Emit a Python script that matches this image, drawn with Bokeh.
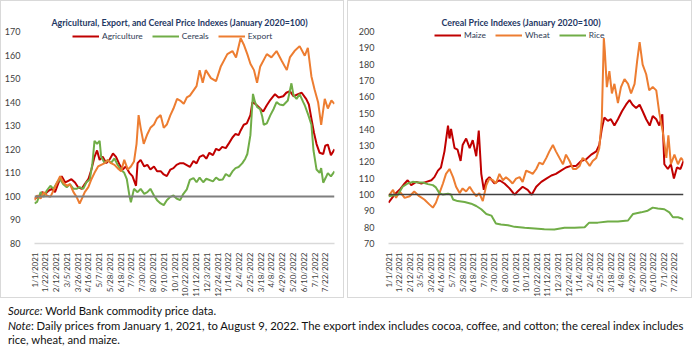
import math
import pandas as pd
from bokeh.plotting import figure
from bokeh.models import Range1d, FixedTicker, Span, Div
from bokeh.layouts import column, row
from bokeh.embed import file_html
from bokeh.resources import INLINE

START = "2021-01-01"
END = "2022-08-09"

tick_labels = ["1/1/2021", "1/22/2021", "2/12/2021", "3/5/2021", "3/26/2021", "4/16/2021",
               "5/7/2021", "5/28/2021", "6/18/2021", "7/9/2021", "7/30/2021", "8/20/2021",
               "9/10/2021", "10/1/2021", "10/22/2021", "11/12/2021", "12/3/2021", "12/24/2021",
               "1/14/2022", "2/4/2022", "2/25/2022", "3/18/2022", "4/8/2022", "4/29/2022",
               "5/20/2022", "6/10/2022", "7/1/2022", "7/22/2022"]

left_y_ticks = [80, 90, 100, 110, 120, 130, 140, 150, 160, 170]
right_y_ticks = [70, 80, 90, 100, 110, 120, 130, 140, 150, 160, 170, 180, 190, 200]

# ---- left panel (days since 1/1/2021, index value) ----
agri_day = [0, 8, 15, 21, 28, 34, 40, 47, 53, 60, 66, 72, 79, 85, 92, 98, 105, 111, 117, 122,
            127, 133, 140, 146, 153, 159, 166, 172, 178, 185, 191, 198, 201, 207, 214, 220, 226, 233, 239, 246,
            252, 258, 265, 271, 277, 284, 290, 303, 310, 316, 322, 329, 335, 341, 348, 354, 360, 366, 373, 379,
            386, 392, 398, 402, 408, 414, 421, 425, 432, 440, 446, 453, 460, 469, 476, 485, 491, 498, 505, 514,
            521, 530, 535, 540, 545, 550, 556, 563, 567, 572, 578, 585]
agri_val = [99.1, 99.8, 101.8, 101.1, 102.5, 103.2, 101.8, 105.9, 108.6, 105.9,
            106.6, 107.3, 105.9, 103.9, 103.2, 105.2, 107.3, 111.4, 116.8, 119.5,
            115.5, 116.8, 114.1, 115.5, 118.2, 116.8, 113.4, 111.4, 112.7, 110.0,
            108.6, 104.5, 114.1, 115.5, 112.7, 113.4, 111.4, 112.7, 110.7, 110.7,
            109.3, 108.6, 111.4, 112.0, 113.4, 114.1, 114.1, 112.5, 115.0, 114.0,
            116.8, 117.5, 116.0, 118.5, 117.5, 120.2, 119.5, 121.0, 120.5, 122.5,
            125.0, 126.5, 126.0, 128.0, 130.4, 131.0, 134.5, 140.0, 139.0, 137.3,
            136.0, 138.7, 141.0, 143.4, 142.0, 142.5, 144.0, 144.7, 142.5, 143.4,
            144.0, 141.3, 139.0, 133.0, 127.0, 122.2, 118.5, 118.0, 121.5, 122.0,
            117.5, 120.0]

cer_day = [0, 5, 12, 18, 24, 31, 37, 44, 50, 56, 63, 69, 76, 82, 88, 95, 101, 108, 113, 117,
           122, 127, 130, 137, 143, 149, 156, 162, 168, 175, 180, 185, 188, 194, 201, 207, 214, 220, 226, 233,
           239, 246, 252, 258, 265, 271, 277, 284, 290, 297, 303, 310, 316, 322, 329, 335, 348, 354, 360, 367,
           373, 380, 386, 392, 398, 405, 411, 415, 421, 426, 430, 434, 440, 444, 447, 453, 460, 466, 472, 478,
           485, 494, 501, 505, 511, 517, 524, 527, 534, 540, 544, 550, 556, 559, 563, 568, 572, 578, 585]
cer_val = [97.0, 97.7, 101.8, 99.8, 102.5, 104.5, 103.2, 105.9, 107.3, 105.2,
           103.9, 105.2, 103.2, 103.2, 103.9, 103.2, 105.9, 107.3, 114.1, 123.6,
           122.3, 123.6, 116.8, 114.1, 115.5, 114.1, 116.1, 113.4, 111.4, 110.0,
           107.3, 100.4, 97.5, 103.2, 101.8, 103.2, 101.1, 101.8, 103.2, 100.4,
           98.4, 97.0, 96.3, 98.4, 99.8, 100.4, 99.1, 98.4, 101.0, 103.0,
           107.0, 107.8, 106.0, 108.0, 106.0, 107.5, 106.4, 108.0, 107.0, 107.2,
           109.5, 108.5, 110.6, 112.0, 112.5, 114.0, 116.0, 118.0, 126.0, 143.5,
           140.0, 138.0, 137.0, 134.0, 130.4, 131.0, 134.5, 137.0, 140.0, 139.0,
           138.7, 140.7, 148.0, 143.0, 141.4, 143.4, 140.0, 138.7, 134.5, 130.4,
           119.6, 111.4, 110.0, 112.0, 105.8, 108.0, 109.9, 108.5, 110.6]

exp_day = [0, 5, 12, 18, 24, 31, 37, 44, 50, 56, 63, 69, 76, 82, 88, 94, 98, 105, 111, 117,
           124, 130, 137, 143, 149, 156, 162, 169, 175, 182, 188, 194, 199, 203, 207, 213, 220, 226, 233, 239,
           246, 252, 258, 265, 271, 278, 284, 291, 297, 303, 316, 322, 328, 334, 344, 354, 363, 376, 386, 393,
           402, 408, 415, 421, 428, 434, 440, 453, 462, 472, 482, 492, 498, 507, 517, 527, 533, 540, 546, 553,
           559, 566, 572, 579, 585]
exp_val = [98.4, 100.4, 99.1, 101.8, 100.4, 99.8, 102.5, 105.9, 108.6, 105.9,
           104.5, 105.2, 101.8, 99.8, 97.0, 99.8, 101.8, 103.9, 107.3, 110.0,
           112.7, 113.4, 114.1, 115.5, 114.1, 113.4, 112.0, 110.7, 115.5, 111.4,
           112.7, 114.8, 122.3, 134.5, 129.1, 122.3, 126.4, 129.1, 130.5, 133.2,
           134.5, 129.1, 130.5, 134.5, 137.3, 141.4, 140.7, 139.3, 142.0, 142.8,
           146.8, 153.6, 148.2, 153.6, 150.2, 148.9, 155.0, 160.4, 161.7, 159.0,
           167.2, 164.5, 160.4, 156.3, 153.6, 148.2, 155.0, 160.4, 159.0, 161.7,
           157.6, 153.6, 159.0, 161.7, 163.8, 159.7, 163.1, 150.9, 145.5, 140.0,
           130.4, 141.4, 137.3, 140.7, 139.3]

# ---- right panel ----
maize_day = [0, 12, 22, 32, 38, 45, 55, 65, 75, 85, 91, 98, 104, 111, 118, 121, 124, 131, 137, 143,
             147, 154, 161, 167, 174, 179, 184, 189, 194, 200, 210, 220, 230, 240, 250, 256, 266, 276, 284, 293,
             303, 313, 323, 332, 342, 352, 362, 372, 382, 392, 402, 412, 418, 423, 428, 435, 441, 448, 455, 463,
             471, 478, 484, 491, 498, 504, 511, 518, 524, 531, 537, 543, 547, 554, 560, 566, 572, 579, 585]
maize_val = [95.0, 100.0, 102.9, 106.8, 108.8, 105.8, 107.8, 106.8, 107.8, 108.8,
             110.7, 114.7, 116.6, 126.5, 142.3, 134.4, 140.3, 128.5, 127.5, 120.6,
             130.4, 134.4, 128.5, 133.4, 123.5, 139.3, 112.7, 102.9, 108.8, 110.7,
             106.8, 108.8, 106.8, 103.8, 99.9, 101.9, 104.8, 102.9, 99.9, 104.8,
             107.8, 109.8, 111.7, 112.7, 114.7, 116.6, 117.6, 117.6, 120.6, 121.6,
             124.5, 126.5, 130.4, 140.3, 147.2, 145.2, 146.2, 142.3, 146.2, 151.1,
             155.1, 158.0, 155.1, 153.1, 155.1, 151.1, 146.2, 142.3, 148.2, 146.2,
             142.3, 149.2, 118.6, 115.7, 118.6, 109.8, 116.6, 115.7, 120.6]

wheat_day = [0, 9, 15, 22, 32, 42, 51, 61, 71, 81, 88, 94, 101, 108, 114, 121, 128, 134, 141, 147,
             154, 161, 167, 174, 180, 187, 194, 200, 207, 213, 220, 227, 233, 240, 246, 253, 260, 266, 273, 280,
             286, 293, 299, 306, 313, 319, 326, 332, 339, 346, 352, 359, 366, 372, 379, 385, 392, 399, 405, 412,
             418, 423, 427, 429, 433, 438, 443, 448, 455, 461, 468, 475, 481, 488, 493, 498, 504, 511, 517, 524,
             531, 537, 544, 551, 555, 560, 567, 574, 580, 585]
wheat_val = [99.0, 102.9, 98.0, 101.9, 98.0, 99.0, 101.9, 99.0, 97.0, 94.0,
             92.0, 95.0, 100.9, 106.8, 112.7, 115.7, 110.7, 104.8, 100.9, 103.8,
             101.9, 104.8, 101.9, 99.0, 100.9, 96.0, 105.8, 109.8, 108.8, 106.8,
             112.7, 108.8, 110.7, 108.8, 106.8, 109.8, 110.7, 107.8, 114.7, 113.7,
             112.7, 115.7, 119.6, 118.6, 122.5, 126.5, 130.4, 126.5, 122.5, 118.6,
             124.5, 120.6, 115.7, 115.7, 117.6, 122.5, 120.6, 117.6, 120.6, 122.5,
             128.5, 146.2, 196.0, 188.0, 165.9, 175.7, 162.0, 167.9, 156.1, 165.9,
             170.8, 167.9, 162.0, 167.9, 181.7, 193.5, 179.7, 173.8, 163.9, 165.9,
             163.9, 150.1, 138.3, 122.5, 136.3, 118.6, 124.5, 118.6, 122.5, 120.6]

rice_day = [0, 19, 28, 38, 48, 58, 68, 78, 88, 94, 101, 108, 118, 124, 128, 137, 151, 164, 174, 184,
            194, 204, 213, 223, 237, 250, 270, 290, 309, 329, 349, 369, 389, 398, 415, 435, 455, 475, 485, 501,
            514, 524, 534, 547, 557, 564, 574, 580, 585]
rice_val = [99.0, 100.0, 104.8, 106.8, 107.8, 107.4, 107.4, 106.4, 105.8, 104.4,
            100.9, 100.0, 100.5, 100.0, 97.0, 96.0, 95.4, 94.4, 93.0, 91.0,
            88.1, 87.1, 82.2, 81.6, 81.2, 80.2, 79.6, 79.2, 78.8, 78.6,
            79.6, 79.6, 80.0, 82.8, 82.8, 83.5, 83.5, 84.1, 88.1, 89.1,
            90.1, 92.0, 91.4, 91.0, 89.1, 86.1, 86.1, 85.5, 84.7]

RED, GREEN, ORANGE = "#C00000", "#70AD47", "#ED7D31"
FONT = "Lato"

start = pd.Timestamp(START)
tick_days = [int((pd.to_datetime(t, format="%m/%d/%Y") - start).days) for t in tick_labels]
end_day = int((pd.Timestamp(END) - start).days)


def make_panel(title, width, yticks, series, frame_left, frame_right, frame_top,
               title_offset, legend_x, legend_y, base_color, base_width):
    p = figure(width=width, height=298, output_backend="svg", toolbar_location=None,
               x_range=Range1d(0, end_day), y_range=Range1d(yticks[0], yticks[-1]),
               min_border_left=frame_left, min_border_right=frame_right,
               min_border_top=frame_top, min_border_bottom=48)
    p.outline_line_color = None
    p.background_fill_color = "white"
    p.border_fill_color = "white"
    p.xgrid.visible = False
    p.ygrid.visible = False
    p.styles = {"border": "1px solid #d9d9d9"}

    p.title.text = title
    p.title.text_font = FONT
    p.title.text_font_style = "bold"
    p.title.text_font_size = "8.8px"
    p.title.text_color = "#1F3864"
    p.title.align = "left"
    p.title.offset = title_offset
    p.title.standoff = 8

    for name, d, v, c in series:
        p.line(d, v, line_color=c, line_width=2, legend_label=name)

    p.add_layout(Span(location=100, dimension="width", line_color=base_color, line_width=base_width))

    xa = p.xaxis[0]
    xa.ticker = FixedTicker(ticks=tick_days)
    xa.major_label_overrides = {d: t for d, t in zip(tick_days, tick_labels)}
    xa.major_label_orientation = math.pi / 2
    xa.major_label_text_font = FONT
    xa.major_label_text_font_size = "8px"
    xa.major_label_text_color = "#404040"
    xa.major_label_standoff = 3
    xa.major_tick_line_color = None
    xa.minor_tick_line_color = None
    xa.axis_line_color = "#d9d9d9"
    xa.axis_line_width = 1.5

    ya = p.yaxis[0]
    ya.ticker = FixedTicker(ticks=yticks)
    ya.major_label_text_font = FONT
    ya.major_label_text_font_size = "9px"
    ya.major_label_text_color = "#404040"
    ya.major_label_standoff = 8
    ya.major_tick_line_color = None
    ya.minor_tick_line_color = None
    ya.axis_line_color = None

    lg = p.legend[0]
    lg.orientation = "horizontal"
    lg.location = (legend_x, legend_y)
    lg.padding = 0
    lg.margin = 0
    lg.spacing = 9
    lg.glyph_width = 27
    lg.glyph_height = 12
    lg.label_height = 12
    lg.label_standoff = 3
    lg.label_text_font = FONT
    lg.label_text_font_size = "8.4px"
    lg.label_text_color = "#2F3B55"
    lg.background_fill_alpha = 0
    lg.border_line_color = None
    return p


p1 = make_panel("Agricultural, Export, and Cereal Price Indexes (January 2020=100)", 344, left_y_ticks,
                [("Agriculture", agri_day, agri_val, RED),
                 ("Cereals", cer_day, cer_val, GREEN),
                 ("Export", exp_day, exp_val, ORANGE)],
                29, 11, 30, 17, 38, 201, "#7F7F7F", 2)
p2 = make_panel("Cereal Price Indexes (January 2020=100)", 345, right_y_ticks,
                [("Maize", maize_day, maize_val, RED),
                 ("Wheat", wheat_day, wheat_val, ORANGE),
                 ("Rice", rice_day, rice_val, GREEN)],
                40, 10, 29, 53, 46, 202, "#404040", 1.5)

note = Div(text=("<i>Source:</i> World Bank commodity price data.<br>"
                 "<i>Note</i>: Daily prices from January 1, 2021, to August 9, 2022. The export index includes "
                 "cocoa, coffee, and cotton; the cereal index includes<br>rice, wheat, and maize."),
           width=696, height=52,
           styles={"font-family": FONT, "font-size": "11.3px", "line-height": "14.5px",
                   "padding-top": "1px", "padding-left": "3px", "white-space": "nowrap", "color": "#111"})

layout = column(row(p1, p2, spacing=3), note)
open("out.html", "w").write(file_html(layout, INLINE))
